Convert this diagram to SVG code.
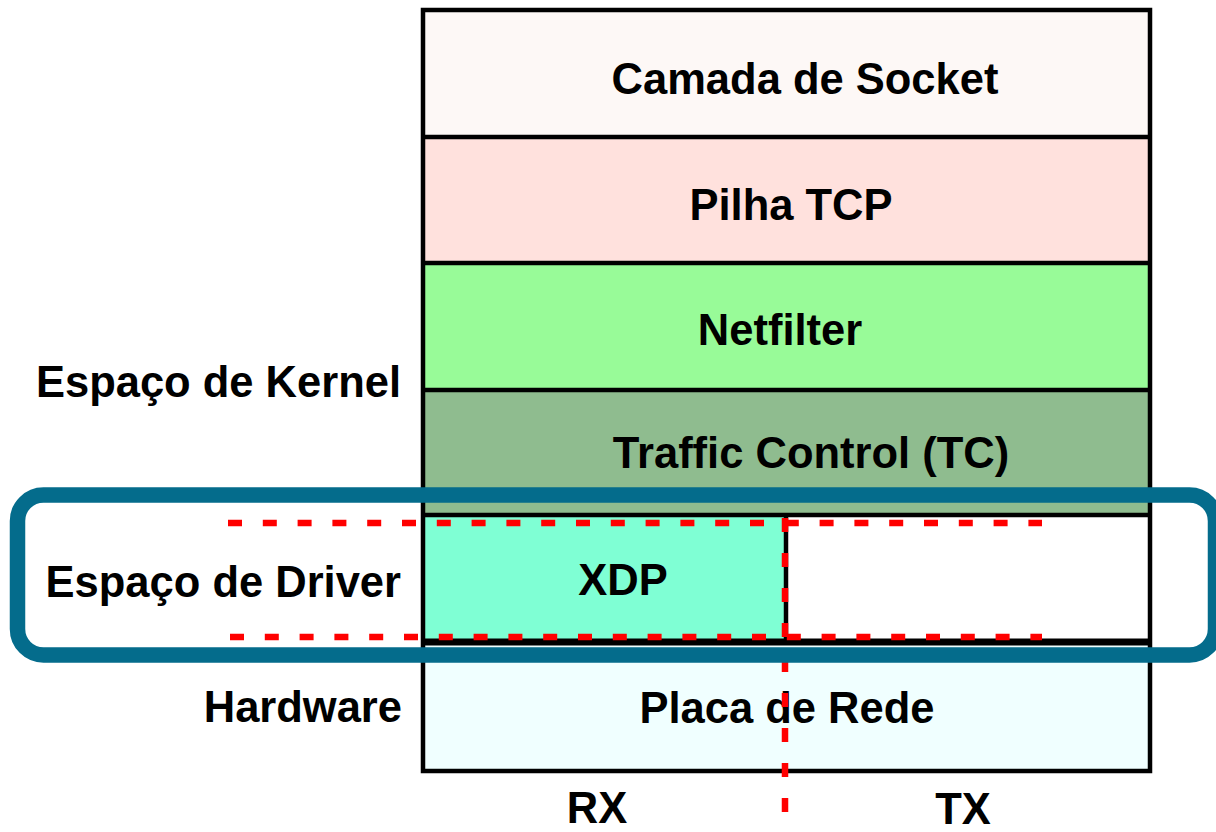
<svg xmlns="http://www.w3.org/2000/svg" width="1216" height="832" viewBox="0 0 1216 832">
  <style>
    .lbl { font-family: "Liberation Sans", Arial, sans-serif; font-weight: bold; font-size: 43.5px; fill: #000; }
    .mid { text-anchor: middle; }
    .end { text-anchor: end; }
    .sep { stroke: #000; stroke-width: 4.5; fill: none; }
    .red { stroke: #ff0000; stroke-width: 6.5; fill: none; stroke-dasharray: 14 20.8; }
  </style>
  <rect width="1216" height="832" fill="#ffffff"/>

  <!-- stack layers -->
  <g id="socket">
    <rect x="423" y="10" width="727" height="127" fill="#fdf8f6"/>
    <text class="lbl mid" x="805" y="94">Camada de Socket</text>
  </g>
  <g id="tcp">
    <rect x="423" y="137" width="727" height="126" fill="#ffe1dd"/>
    <text class="lbl mid" x="791" y="220">Pilha TCP</text>
  </g>
  <g id="netfilter">
    <rect x="423" y="263" width="727" height="127" fill="#98fb98"/>
    <text class="lbl mid" x="780" y="345">Netfilter</text>
  </g>
  <g id="tc">
    <rect x="423" y="390" width="727" height="125" fill="#8fbc8f"/>
    <text class="lbl mid" x="811" y="468">Traffic Control (TC)</text>
  </g>
  <g id="xdp">
    <rect x="423" y="515" width="363" height="127" fill="#7fffd4"/>
    <rect x="786" y="515" width="364" height="127" fill="#ffffff"/>
    <text class="lbl mid" x="623" y="595">XDP</text>
  </g>
  <g id="nic">
    <rect x="423" y="642" width="727" height="129" fill="#f0ffff"/>
    <text class="lbl mid" x="787" y="723">Placa de Rede</text>
  </g>

  <!-- layer borders -->
  <g id="borders">
    <rect class="sep" x="423" y="10" width="727" height="761"/>
    <line class="sep" x1="423" y1="137" x2="1150" y2="137"/>
    <line class="sep" x1="423" y1="263" x2="1150" y2="263"/>
    <line class="sep" x1="423" y1="390" x2="1150" y2="390"/>
    <line class="sep" x1="423" y1="515" x2="1150" y2="515"/>
    <line class="sep" x1="423" y1="642" x2="1150" y2="642" style="stroke-width:7"/>
    <line class="sep" x1="786" y1="515" x2="786" y2="642"/>
  </g>

  <!-- side labels -->
  <g id="side-labels">
    <text class="lbl end" x="401" y="397">Espaço de Kernel</text>
    <text class="lbl end" x="401" y="597">Espaço de Driver</text>
    <text class="lbl end" x="402" y="722">Hardware</text>
  </g>

  <!-- RX / TX split -->
  <g id="connectors">
    <line class="red" x1="228" y1="523" x2="1042" y2="523"/>
    <line class="red" x1="230" y1="637" x2="1042" y2="637"/>
    <line class="red" x1="785" y1="518" x2="785" y2="832" style="stroke-dasharray:14 21"/>
  </g>

  <g id="rx-tx">
    <text class="lbl mid" x="597" y="823">RX</text>
    <text class="lbl mid" x="963" y="824">TX</text>
  </g>

  <!-- driver-space highlight -->
  <g id="driver-highlight">
    <rect x="17.5" y="495" width="1198" height="160" rx="26" ry="26" fill="none" stroke="#046c8c" stroke-width="15.5"/>
  </g>
</svg>
